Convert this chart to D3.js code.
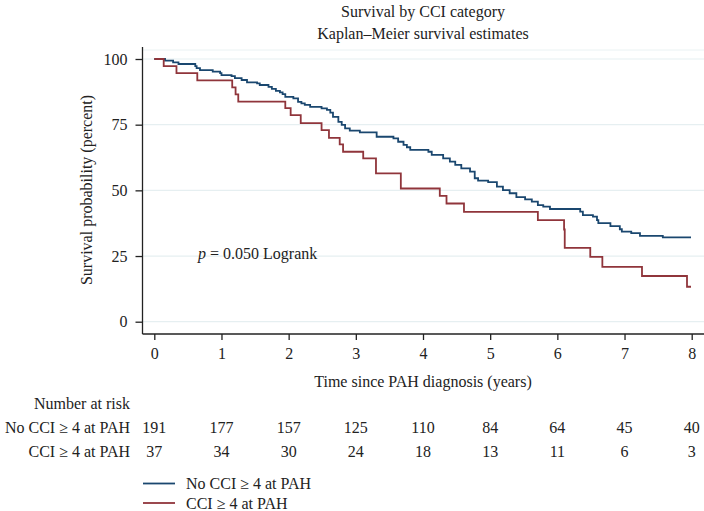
<!DOCTYPE html>
<html>
<head>
<meta charset="utf-8">
<script src="https://cdn.jsdelivr.net/npm/d3@7"></script>
<style>
  body { margin: 0; background: #fff; }
  svg text { font-family: "Liberation Serif", "Times New Roman", serif; fill: #222; }
</style>
</head>
<body>
<svg id="chart" width="704" height="511"></svg>
<script>
// group labels
var groups = ["No CCI \u2265 4 at PAH", "CCI \u2265 4 at PAH"];

// KM steps, no CCI >= 4 (years, percent surviving)
var noCciTime = [0, 0.16, 0.28, 0.36, 0.61, 0.63, 0.68, 0.87, 0.98, 1.00, 1.15, 1.20, 1.30, 1.38, 1.53, 1.57,
  1.70, 1.75, 1.81, 1.87, 1.91, 1.95, 2.07, 2.14, 2.19, 2.24, 2.32, 2.49, 2.57, 2.62, 2.66, 2.74, 2.79, 2.84,
  2.91, 3.06, 3.31, 3.56, 3.63, 3.71, 3.76, 3.81, 4.08, 4.13, 4.30, 4.40, 4.48, 4.57, 4.70, 4.77, 4.82, 4.97,
  5.10, 5.19, 5.29, 5.39, 5.52, 5.62, 5.71, 5.79, 5.89, 6.34, 6.38, 6.53, 6.59, 6.61, 6.79, 6.93, 6.96, 7.10,
  7.23, 7.57, 7.99];
var noCciSurv = [100, 99.4, 98.7, 98.1, 97.3, 96.5, 95.8, 95.2, 94.6, 93.9, 93.5, 92.7, 92.0, 91.1, 90.7, 90.1,
  89.4, 88.6, 87.9, 87.3, 86.6, 85.6, 85.0, 83.7, 83.1, 82.5, 81.8, 81.2, 80.6, 79.6, 78.0, 76.1, 74.9, 73.6,
  72.7, 72.1, 70.4, 69.8, 68.5, 67.3, 66.4, 65.4, 64.7, 63.5, 62.2, 60.9, 59.7, 58.4, 57.1, 54.6, 53.7, 53.1,
  51.4, 50.1, 48.9, 47.4, 46.6, 45.7, 44.4, 43.8, 42.9, 41.9, 40.6, 40.0, 38.7, 37.5, 36.4, 35.2, 34.3, 33.7,
  32.7, 32.1, 32.1];

// KM steps, CCI >= 4
var cciTime = [0, 0.14, 0.33, 0.64, 1.16, 1.21, 1.25, 1.95, 2.03, 2.18, 2.49, 2.60, 2.76, 2.81, 3.11, 3.30,
  3.67, 4.25, 4.35, 4.61, 5.71, 6.10, 6.11, 6.49, 6.67, 7.26, 7.93, 7.99];
var cciSurv = [100, 97.3, 94.6, 91.9, 89.2, 86.5, 83.8, 81.3, 78.6, 75.6, 72.9, 70.0, 67.5, 64.7, 62.2, 56.5,
  50.7, 47.9, 45.0, 41.8, 38.7, 35.1, 28.1, 24.7, 20.9, 17.4, 13.3, 13.3];

var xTicks = [0, 1, 2, 3, 4, 5, 6, 7, 8];
var yTicks = [0, 25, 50, 75, 100];
var riskNoCci = [191, 177, 157, 125, 110, 84, 64, 45, 40];
var riskCci = [37, 34, 30, 24, 18, 13, 11, 6, 3];

var colors = ["#1a476f", "#90353b"];

var svg = d3.select("#chart");
var x = d3.scaleLinear().domain([0, 8]).range([154.3, 691.7]);
var y = d3.scaleLinear().domain([0, 100]).range([321.7, 59]);
var axisLeftX = 142.5, axisBottomY = 334;

// titles
svg.append("text").attr("x", 423).attr("y", 17).attr("text-anchor", "middle")
  .style("font-size", "16px").text("Survival by CCI category");
svg.append("text").attr("x", 423).attr("y", 39).attr("text-anchor", "middle")
  .style("font-size", "16px").text("Kaplan\u2013Meier survival estimates");

// faint top border of plot region
svg.append("line").attr("x1", axisLeftX).attr("x2", 704).attr("y1", 50).attr("y2", 50)
  .attr("stroke", "#eaf2f3").attr("stroke-width", 1);

// grid
svg.append("g").selectAll("line").data(yTicks).enter().append("line")
  .attr("x1", axisLeftX).attr("x2", 704)
  .attr("y1", function(d){ return y(d); }).attr("y2", function(d){ return y(d); })
  .attr("stroke", "#e6eff1").attr("stroke-width", 1.2);

// axes
var yAxis = d3.axisLeft(y).tickValues(yTicks).tickSize(7).tickPadding(8);
var gy = svg.append("g").attr("transform", "translate(" + axisLeftX + ",0)").call(yAxis);
gy.select(".domain").remove();
gy.append("line").attr("x1", 0).attr("x2", 0).attr("y1", 47).attr("y2", axisBottomY)
  .attr("stroke", "#222").attr("stroke-width", 1.3);

var xAxis = d3.axisBottom(x).tickValues(xTicks).tickSize(6).tickPadding(8);
var gx = svg.append("g").attr("transform", "translate(0," + axisBottomY + ")").call(xAxis);
gx.select(".domain").remove();
gx.append("line").attr("x1", axisLeftX).attr("x2", 704).attr("y1", 0).attr("y2", 0)
  .attr("stroke", "#222").attr("stroke-width", 1.3);

svg.selectAll(".tick line").attr("stroke", "#222").attr("stroke-width", 1.3);
svg.selectAll(".tick text").style("font-size", "16px").style("font-family", "Liberation Serif, serif").attr("fill", "#222");

// axis titles
svg.append("text").attr("transform", "translate(92,190) rotate(-90)").attr("text-anchor", "middle")
  .style("font-size", "16px").text("Survival probability (percent)");
svg.append("text").attr("x", 423).attr("y", 387).attr("text-anchor", "middle")
  .style("font-size", "16px").text("Time since PAH diagnosis (years)");

// p-value annotation
var pText = svg.append("text").attr("x", 198).attr("y", 259).style("font-size", "16px");
pText.append("tspan").style("font-style", "italic").text("p");
pText.append("tspan").text(" = 0.050 Logrank");

// curves
var line = d3.line()
  .x(function(d){ return x(d[0]); })
  .y(function(d){ return y(d[1]); })
  .curve(d3.curveStepAfter);

var series = [d3.zip(noCciTime, noCciSurv), d3.zip(cciTime, cciSurv)];
svg.append("g").selectAll("path").data(series).enter().append("path")
  .attr("d", line)
  .attr("fill", "none")
  .attr("stroke", function(d, i){ return colors[i]; })
  .attr("stroke-width", 1.8);

// number at risk
svg.append("text").attr("x", 130).attr("y", 409).attr("text-anchor", "end")
  .style("font-size", "16px").text("Number at risk");
var riskRows = [riskNoCci, riskCci];
riskRows.forEach(function(row, r) {
  var yy = 433 + r * 24;
  svg.append("text").attr("x", 130).attr("y", yy).attr("text-anchor", "end")
    .style("font-size", "16px").text(groups[r]);
  svg.append("g").selectAll("text").data(row).enter().append("text")
    .attr("x", function(d, i){ return x(xTicks[i]); })
    .attr("y", yy)
    .attr("text-anchor", "middle")
    .style("font-size", "16px")
    .text(function(d){ return d; });
});

// legend
var legend = svg.append("g").selectAll("g").data(groups).enter().append("g")
  .attr("transform", function(d, i){ return "translate(143," + (483.5 + i * 19.5) + ")"; });
legend.append("line").attr("x1", 0).attr("x2", 32).attr("y1", 0).attr("y2", 0)
  .attr("stroke", function(d, i){ return colors[i]; }).attr("stroke-width", 1.8);
legend.append("text").attr("x", 43).attr("y", 5.5).style("font-size", "16px")
  .text(function(d){ return d; });
</script>
</body>
</html>
